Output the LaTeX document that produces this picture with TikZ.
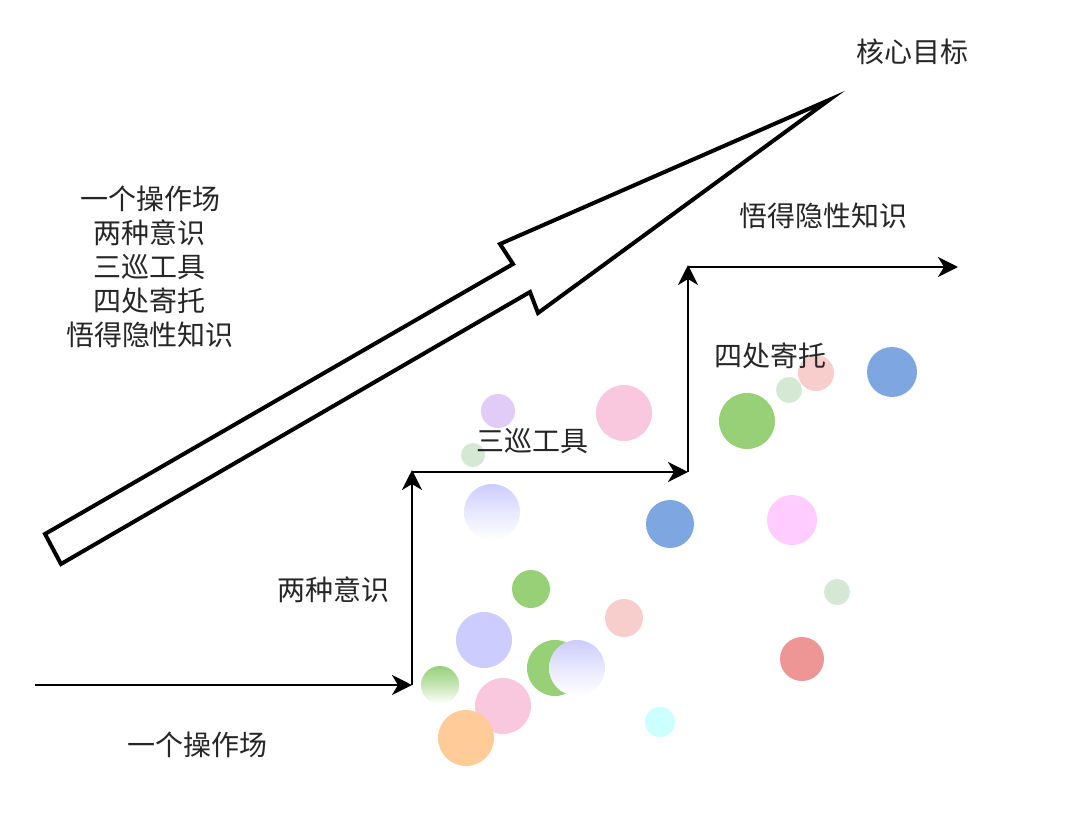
\documentclass[tikz,border=0pt]{standalone}
\usepackage{fontspec}
\newfontfamily\cjk{Noto Sans CJK SC}
\usetikzlibrary{arrows.meta}
\definecolor{cgreen}{HTML}{97D077}
\definecolor{cblue}{HTML}{7EA6E0}
\definecolor{cpink}{HTML}{F9C8DE}
\definecolor{cpink2}{HTML}{FFCCFF}
\definecolor{clav}{HTML}{CCCCFF}
\definecolor{cpurple}{HTML}{E1CCF8}
\definecolor{csage}{HTML}{D5E8D4}
\definecolor{crose}{HTML}{F8CECC}
\definecolor{cred}{HTML}{EE9595}
\definecolor{corange}{HTML}{FFCC99}
\definecolor{ccyan}{HTML}{CCFFFF}
\definecolor{ctext}{HTML}{262626}
\tikzset{
  lbl/.style={font=\cjk\fontsize{28}{34}\selectfont, text=ctext, inner sep=0pt, align=center},
  stepline/.style={line width=2.8pt, -{Stealth[length=20pt,width=20pt,inset=6pt]}},
  bigarrow/.style={line width=4pt, line join=miter, draw=black, fill=white},
  dot/.style={draw=none}
}
\begin{document}
\begin{tikzpicture}[x=1pt,y=-1pt]
\useasboundingbox[fill=white] (0,0) rectangle (1080,814);

% big arrow
\coordinate (a1) at (45,534);
\coordinate (a2) at (513,264);
\coordinate (a3) at (500,244);
\coordinate (tip) at (829,100);
\coordinate (a5) at (538,313);
\coordinate (a6) at (530,292);
\coordinate (a7) at (61,564);
\draw[bigarrow] (a1) -- (a2) -- (a3) -- (tip) -- (a5) -- (a6) -- (a7) -- cycle;

% circles
\fill[cpurple] (498,411) circle (17);
\fill[cpink] (624,413) circle (28);
\fill[csage] (473,455) circle (12);
\shade[top color=clav, bottom color=white, middle color=clav!45] (492,512) circle (28);
\fill[cblue] (670,524) circle (24);
\fill[cgreen] (747,421) circle (28);
\fill[csage] (789,390) circle (13);
\fill[crose] (816,373) circle (18);
\fill[cblue] (892,372) circle (25);
\fill[cpink2] (792,520) circle (25);
\fill[csage] (837,592) circle (13);
\fill[cgreen] (531,589) circle (19);
\fill[crose] (624,618) circle (19);
\fill[clav] (484,640) circle (28);
\fill[cgreen] (555,668) circle (28);
\shade[top color=clav, bottom color=white, middle color=clav!45] (577,668) circle (28);
\shade[top color=cgreen, bottom color=white, middle color=cgreen!55] (440,685) circle (19);
\fill[cpink] (503,706) circle (28);
\fill[corange] (466,738) circle (28);
\fill[ccyan] (660,722) circle (15);
\fill[cred] (802,659) circle (22);

% steps
\coordinate (s0) at (35,685);
\coordinate (s1) at (412,685);
\coordinate (s2) at (412,470);
\coordinate (s2b) at (412,472);
\coordinate (s3) at (688,472);
\coordinate (s4) at (688,265);
\coordinate (s4b) at (688,267);
\coordinate (s5) at (958,267);
\draw[stepline] (s0) -- (s1);
\draw[stepline] (s1) -- (s2);
\draw[stepline] (s2b) -- (s3);
\draw[stepline] (s3) -- (s4);
\draw[stepline] (s4b) -- (s5);

% labels
\node[lbl] (goal) at (912,52) {核心目标};
\node[lbl] (l5) at (823,216) {悟得隐性知识};
\node[lbl] (l4) at (770,356) {四处寄托};
\node[lbl] (l3) at (532,441) {三巡工具};
\node[lbl] (l2) at (333,590) {两种意识};
\node[lbl] (l1) at (197,745) {一个操作场};
\node[lbl] (stack) at (150,267) {一个操作场\\两种意识\\三巡工具\\四处寄托\\悟得隐性知识};
\end{tikzpicture}
\end{document}
